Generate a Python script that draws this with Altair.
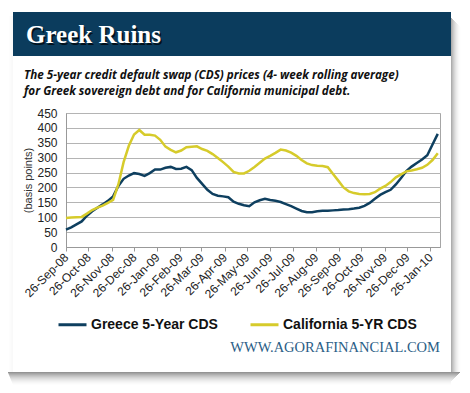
import altair as alt
import pandas as pd

# ---------------- data ----------------
weeks = pd.date_range("2008-09-26", periods=72, freq="7D").strftime("%Y-%m-%d").tolist()

greece = [58, 66, 76, 86, 105, 120, 132, 143, 155, 170,
          205, 229, 240, 248, 245, 239, 248, 260, 260, 266,
          269, 262, 263, 269, 258, 232, 212, 192, 178, 172,
          170, 167, 152, 145, 140, 137, 150, 157, 162, 158,
          155, 151, 144, 137, 129, 121, 117, 117, 120, 122,
          122, 123, 124, 126, 127, 129, 132, 138, 148, 162,
          175, 184, 192, 210, 232, 255, 270, 282, 294, 308,
          344, 380]

california = [97, 99, 100, 101, 112, 124, 132, 139, 148, 158,
              210, 285, 340, 378, 393, 377, 377, 374, 360, 337,
              326, 318, 324, 335, 337, 338, 329, 323, 312, 299,
              285, 270, 252, 247, 247, 256, 269, 283, 297, 306,
              316, 327, 324, 317, 306, 292, 281, 275, 273, 272,
              268, 245, 223, 200, 187, 181, 178, 177, 178, 184,
              196, 205, 218, 234, 244, 254, 257, 261, 266, 276,
              292, 315]

series_names = ["Greece 5-Year CDS", "California 5-YR CDS"]
series_colors = ["#0e3f5f", "#d6cb2b"]

tick_dates = ["2008-09-26", "2008-10-26", "2008-11-26", "2008-12-26",
              "2009-01-26", "2009-02-26", "2009-03-26", "2009-04-26",
              "2009-05-26", "2009-06-26", "2009-07-26", "2009-08-26",
              "2009-09-26", "2009-10-26", "2009-11-26", "2009-12-26",
              "2010-01-26"]
x_domain = ["2008-09-26", "2010-02-08"]
y_ticks = [0, 50, 100, 150, 200, 250, 300, 350, 400, 450]

title_text = "Greek Ruins"
subtitle_lines = ["The 5-year credit default swap (CDS) prices (4- week rolling average)",
                  "for Greek sovereign debt and for California municipal debt."]
footer_text = "WWW.AGORAFINANCIAL.COM"
y_title = "(basis points)"

# ---------------- layout helpers ----------------
OX, OY = 66, 113          # page position of the plot origin


def px(x):
    return x - OX


def py(y):
    return y - OY


def ms(s):
    return int(pd.Timestamp(s, tz="UTC").timestamp() * 1000)


df = pd.DataFrame({
    "date": weeks * 2,
    "value": greece + california,
    "series": [series_names[0]] * len(greece) + [series_names[1]] * len(california),
})

one = pd.DataFrame({"a": [0]})

# ---------------- card shadow ----------------
rows = []
for k in range(10):
    rows.append(dict(x=px(451 + k), x2=px(452 + k), y=py(18 + k), y2=py(372),
                     op=0.32 * (1 - k / 10) ** 2))
for k in range(14):
    rows.append(dict(x=px(8 + k * 0.4), x2=px(451 + max(0, 9 - k)), y=py(372 + k), y2=py(373 + k),
                     op=0.42 * (1 - k / 14) ** 2))
for k in range(4):
    rows.append(dict(x=px(12 - k), x2=px(13 - k), y=py(16), y2=py(372),
                     op=0.025 * (1 - k / 4)))
shadow = alt.Chart(pd.DataFrame(rows)).mark_rect(color="black").encode(
    x=alt.X("x:Q", scale=None, axis=None),
    x2="x2:Q",
    y=alt.Y("y:Q", scale=None, axis=None),
    y2="y2:Q",
    opacity=alt.Opacity("op:Q", scale=None, legend=None),
)

header = alt.Chart(one).mark_rect(color="#0b3c5d").encode(
    x=alt.value(px(13)), x2=alt.value(px(451)),
    y=alt.value(py(12)), y2=alt.value(py(56)),
)

title_sh = alt.Chart(one).mark_text(
    text=title_text, font="Liberation Serif", fontSize=25, fontWeight="bold",
    color="black", opacity=0.7, align="left", baseline="alphabetic",
).encode(x=alt.value(px(27.5)), y=alt.value(py(44.5)))

title = alt.Chart(one).mark_text(
    text=title_text, font="Liberation Serif", fontSize=25, fontWeight="bold",
    color="white", align="left", baseline="alphabetic",
).encode(x=alt.value(px(26)), y=alt.value(py(43)))

sub1 = alt.Chart(one).mark_text(
    text=subtitle_lines[0], font="Open Sans", fontSize=11.7, fontWeight="bold", fontStyle="italic",
    color="#111111", align="left", baseline="middle",
).encode(x=alt.value(px(24)), y=alt.value(py(75)))

sub2 = alt.Chart(one).mark_text(
    text=subtitle_lines[1], font="Open Sans", fontSize=11.7, fontWeight="bold", fontStyle="italic",
    color="#111111", align="left", baseline="middle",
).encode(x=alt.value(px(24)), y=alt.value(py(91)))

footer = alt.Chart(one).mark_text(
    text=footer_text, font="Liberation Serif", fontSize=14.5,
    color="#2a5d86", align="right", baseline="middle",
).encode(x=alt.value(px(440)), y=alt.value(py(348)))

lines = alt.Chart(df).mark_line(strokeWidth=2.5).encode(
    x=alt.X("date:T",
            scale=alt.Scale(type="utc", domain=[ms(d) for d in x_domain], nice=False),
            axis=alt.Axis(values=[ms(d) for d in tick_dates],
                          labelExpr="utcFormat(datum.value, '%d-%b-%y')",
                          labelAngle=-45, labelAlign="right", labelBaseline="middle",
                          labelPadding=4, tickSize=4, tickColor="#999999", domainColor="#999999",
                          grid=False, title=None, labelFont="Liberation Sans", labelFontSize=12,
                          labelColor="#222222", labelOverlap=False, labelFlush=False)),
    y=alt.Y("value:Q",
            scale=alt.Scale(domain=[0, 450], nice=False),
            axis=alt.Axis(values=y_ticks, grid=True, gridColor="#b4b4b4", gridWidth=1,
                          tickSize=0, labelPadding=9, domainColor="#999999",
                          labelFont="Liberation Sans", labelFontSize=12, labelColor="#222222",
                          title=y_title, titleFont="Liberation Sans", titleFontSize=11,
                          titleFontWeight="normal", titleColor="#333333",
                          titleAngle=270, titleX=px(28), titleY=67,
                          titleAlign="center", titleBaseline="middle")),
    color=alt.Color("series:N",
                    scale=alt.Scale(domain=series_names, range=series_colors),
                    sort=series_names,
                    legend=alt.Legend(orient="none", legendX=px(57), legendY=py(316) - 7,
                                      direction="horizontal", title=None, symbolType="stroke",
                                      symbolSize=784, symbolStrokeWidth=3,
                                      labelFont="Liberation Sans", labelFontSize=14,
                                      labelFontWeight="bold", labelColor="#111111",
                                      labelOffset=3, columnPadding=26, padding=0,
                                      labelLimit=300)),
)

chart = alt.layer(
    shadow, header, title_sh, title, sub1, sub2, footer, lines
).resolve_scale(
    x="independent", y="independent"
).properties(
    width=374, height=134,
    autosize=alt.AutoSizeParams(type="none"),
    padding={"left": 58, "top": 105, "right": 22, "bottom": 138},
    background="white",
).configure_view(stroke="#a6a6a6", strokeWidth=1)

chart.save("out.html", embed_options={"renderer": "svg", "actions": False})
